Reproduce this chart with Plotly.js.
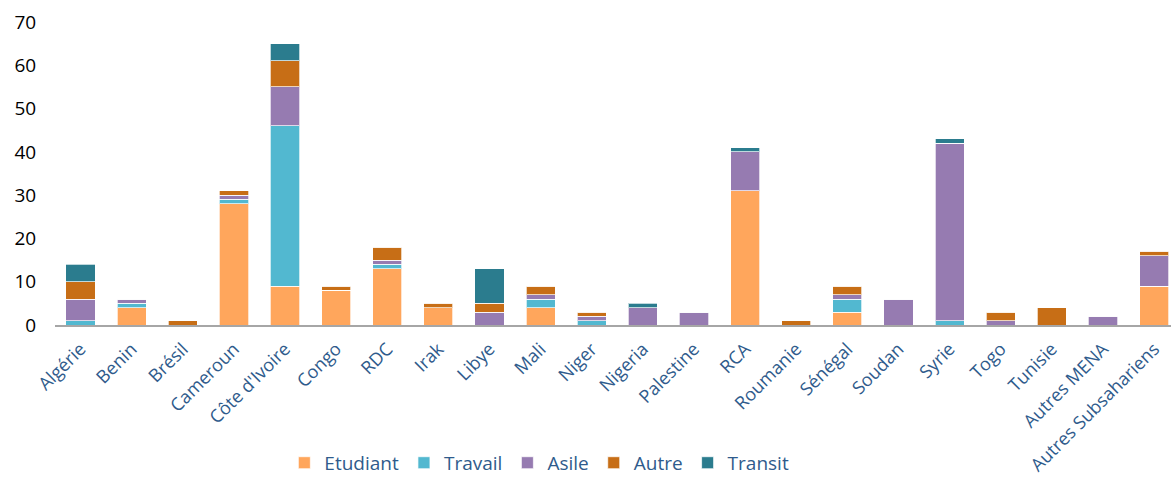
<!DOCTYPE html>
<html>
<head>
<meta charset="utf-8">
<script src="https://cdn.plot.ly/plotly-3.0.1.min.js"></script>
<style>html,body{margin:0;padding:0;background:#fff;}#chart{width:1171px;height:479px;}</style>
</head>
<body>
<div id="chart"></div>
<script>
const categories = ["Algérie","Benin","Brésil","Cameroun","Côte d'Ivoire","Congo","RDC","Irak","Libye","Mali","Niger","Nigeria","Palestine","RCA","Roumanie","Sénégal","Soudan","Syrie","Togo","Tunisie","Autres MENA","Autres Subsahariens"];
const etudiant = [0,4,0,28,9,8,13,4,0,4,0,0,0,31,0,3,0,0,0,0,0,9];
const travail  = [1,1,0,1,37,0,1,0,0,2,1,0,0,0,0,3,0,1,0,0,0,0];
const asile    = [5,1,0,1,9,0,1,0,3,1,1,4,3,9,0,1,6,41,1,0,2,7];
const autre    = [4,0,1,1,6,1,3,1,2,2,1,0,0,0,1,2,0,0,2,4,0,1];
const transit  = [4,0,0,0,4,0,0,0,8,0,0,1,0,1,0,0,0,1,0,0,0,0];
const yTicks = [0,10,20,30,40,50,60,70];

const seriesNames = ["Etudiant","Travail","Asile","Autre","Transit"];
const seriesData = [etudiant, travail, asile, autre, transit];
const colors = ["#FFA65C","#52B8D0","#967BB1","#C76E16","#2B7C8E"];

const traces = seriesNames.map((n,i)=>({
  type:'bar', name:n, x:categories, y:seriesData[i],
  marker:{color:colors[i], line:{color:'rgba(255,255,255,0.7)', width:1}},
  hoverinfo:'x+y+name'
}));

const font = "Open Sans, sans-serif";
const layout = {
  width:1171, height:479,
  barmode:'stack', bargap:0.43,
  margin:{l:55, r:0, t:22, b:154, autoexpand:false},
  paper_bgcolor:'#fff', plot_bgcolor:'#fff',
  font:{family:font, size:16, color:'#000'},
  xaxis:{
    type:'category', range:[-0.5, 21.33], tickangle:-45, automargin:false,
    showline:true, linecolor:'#A6A6A6', linewidth:1.5,
    ticks:'outside', ticklen:5, tickcolor:'rgba(0,0,0,0)', showgrid:false, zeroline:false,
    tickfont:{family:font, size:18, color:'#2F5B8C'}
  },
  yaxis:{
    range:[0,70], tickvals:yTicks, showgrid:false, zeroline:false, showline:false, automargin:false,
    ticks:'outside', ticklen:14, tickcolor:'rgba(0,0,0,0)',
    tickfont:{family:font, size:19, color:'#000'}
  },
  legend:{
    orientation:'h', x:0.2055, xanchor:'left', y:-0.455, yanchor:'middle',
    font:{family:font, size:19, color:'#2F5B8C'}, traceorder:'normal'
  },
  showlegend:true
};
Plotly.newPlot('chart', traces, layout, {displayModeBar:false, staticPlot:true});
</script>
</body>
</html>
